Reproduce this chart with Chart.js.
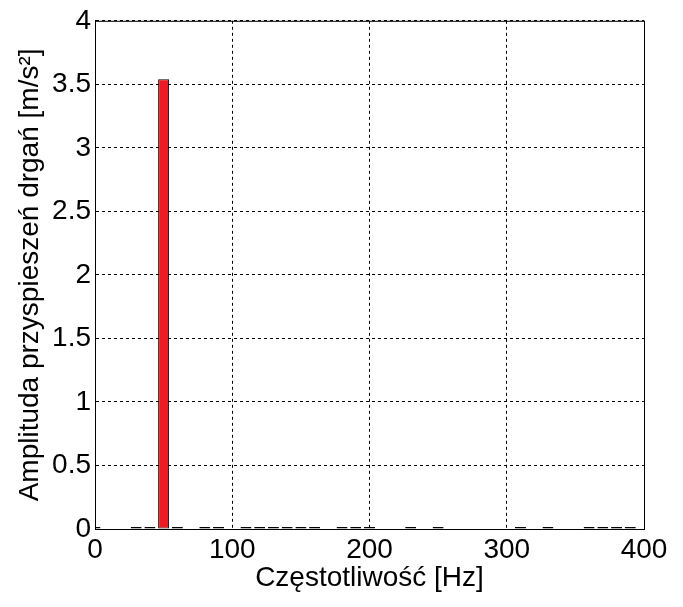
<!DOCTYPE html>
<html>
<head>
<meta charset="utf-8">
<script src="https://cdn.jsdelivr.net/npm/chart.js@4"></script>
<style>
  body { margin: 0; background: #fff; }
  #wrap { width: 683px; height: 607px; }
</style>
</head>
<body>
<div id="wrap"><canvas id="myChart"></canvas></div>
<script>
// frequencies [Hz], every 10 Hz
let freqs = [0, 10, 20, 30, 40, 50, 60, 70, 80, 90,
  100, 110, 120, 130, 140, 150, 160, 170, 180, 190,
  200, 210, 220, 230, 240, 250, 260, 270, 280, 290,
  300, 310, 320, 330, 340, 350, 360, 370, 380, 390, 400];
// amplitude [m/s^2]
let amps = [0.015, 0, 0, 0.015, 0.015, 3.54, 0.015, 0, 0.015, 0.015,
  0, 0.015, 0.015, 0.015, 0.015, 0.015, 0.015, 0, 0.015, 0.015,
  0.015, 0, 0, 0.015, 0, 0.015, 0, 0, 0, 0,
  0, 0.015, 0, 0.015, 0, 0, 0.015, 0.015, 0.015, 0.015, 0];
let xTicks = [0, 100, 200, 300, 400];
let yTicks = [0, 0.5, 1, 1.5, 2, 2.5, 3, 3.5, 4];

let font = { family: 'Liberation Sans, Arial, sans-serif', size: 28 };

// MATLAB style box around the axes
const boxPlugin = {
  id: 'box',
  afterDraw(chart) {
    const { ctx, chartArea: a } = chart;
    ctx.save();
    ctx.strokeStyle = '#000';
    ctx.lineWidth = 1;
    ctx.strokeRect(a.left + 0.5, a.top + 0.5, a.right - a.left, a.bottom - a.top);
    ctx.restore();
  }
};

let ctx = document.getElementById('myChart').getContext('2d');
let myChart = new Chart(ctx, {
  type: 'bar',
  data: {
    datasets: [{
      data: freqs.map((f, i) => ({ x: f, y: amps[i] })),
      backgroundColor: '#ed1c24',
      borderColor: '#000',
      borderWidth: 1,
      borderSkipped: false,
      barPercentage: 0.8,
      categoryPercentage: 1.0
    }]
  },
  options: {
    responsive: true,
    maintainAspectRatio: false,
    animation: false,
    layout: { padding: { left: 0, right: 39, top: 19, bottom: 0 } },
    plugins: {
      legend: { display: false },
      tooltip: { enabled: false }
    },
    scales: {
      x: {
        type: 'linear',
        min: 0,
        max: 400,
        offset: false,
        afterFit: (s) => { s.height = 78; },
        afterBuildTicks: (s) => { s.ticks = xTicks.map(v => ({ value: v })); },
        grid: { color: '#000', drawTicks: false, offset: false },
        border: { display: true, color: '#000', dash: [3, 3] },
        ticks: { color: '#000', font: font, padding: 4, maxRotation: 0, callback: (v) => String(v) },
        title: {
          display: true,
          text: 'Częstotliwość [Hz]',
          color: '#000',
          font: font,
          padding: { top: 0, bottom: 12 }
        }
      },
      y: {
        min: 0,
        max: 4,
        afterFit: (s) => { s.width = 95; },
        afterBuildTicks: (s) => { s.ticks = yTicks.map(v => ({ value: v })); },
        grid: { color: '#000', drawTicks: false },
        border: { display: true, color: '#000', dash: [3, 3] },
        ticks: { color: '#000', font: font, padding: 4, callback: (v) => String(v) },
        title: {
          display: true,
          text: 'Amplituda przyspieszeń drgań [m/s²]',
          color: '#000',
          font: font,
          padding: { top: 13, bottom: 0 }
        }
      }
    }
  },
  plugins: [boxPlugin]
});
</script>
</body>
</html>
